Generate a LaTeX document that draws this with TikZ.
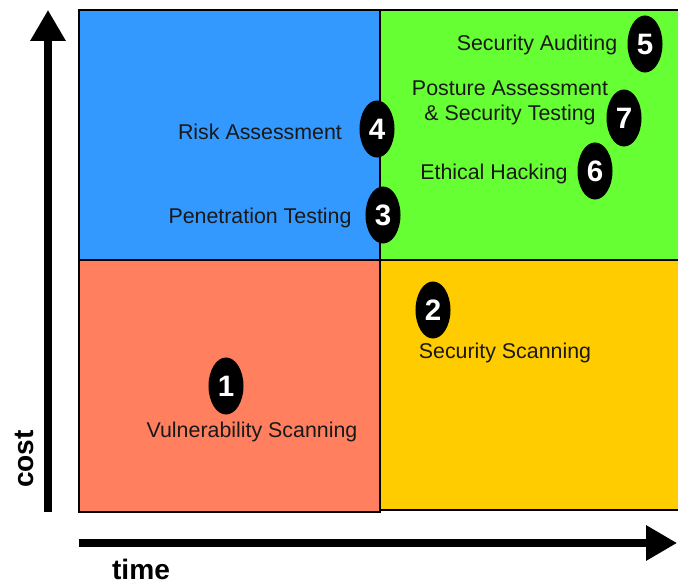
\documentclass[tikz,border=0pt]{standalone}
\usepackage{fontspec}
\setmainfont{Liberation Sans}
\usetikzlibrary{shapes.geometric,arrows.meta}

\definecolor{quadblue}{RGB}{51,153,255}
\definecolor{quadgreen}{RGB}{102,255,51}
\definecolor{quadred}{RGB}{255,127,95}
\definecolor{quadyellow}{RGB}{255,204,0}

\tikzset{
  quad/.style={draw=black, line width=2.1pt},
  badge/.style={ellipse, fill=black, text=white, inner sep=0pt,
    minimum width=0.875cm, minimum height=1.425cm,
    font=\fontsize{21}{21}\selectfont\bfseries},
  lbl/.style={text=black!90, align=center, inner sep=0pt,
    font=\fontsize{15.2}{18}\selectfont},
  axis/.style={line width=5pt, -{Triangle[length=22pt,width=24pt]}},
  axislbl/.style={font=\fontsize{20}{20}\selectfont\bfseries, inner sep=0pt}
}

\begin{document}
\begin{tikzpicture}[x=0.025cm, y=-0.025cm]
%\draw[help lines] (0,0) grid[step=50] (678,584);
\useasboundingbox (0,0) rectangle (678,584);
\clip (0,0) rectangle (678,584);

% the four quadrants
\filldraw[quad, fill=quadblue]   (79,10)  rectangle (380,260);
\filldraw[quad, fill=quadgreen]  (380,10) rectangle (695,260);
\filldraw[quad, fill=quadred]    (79,260) rectangle (380,512);
\filldraw[quad, fill=quadyellow] (380,260) rectangle (695,510);

% axes
\coordinate (cost-start) at (48,512);
\coordinate (cost-end)   at (48,10);
\coordinate (time-start) at (79,543);
\coordinate (time-end)   at (677,543);
\draw[axis] (cost-start) -- (cost-end);
\draw[axis] (time-start) -- (time-end);

\node[axislbl, rotate=90] (cost) at (24,459) {cost};
\node[axislbl] (time) at (141,569) {time};

% bottom left
\node[badge] (n1) at (226,386) {1};
\node[lbl] (vuln) at (252,432) {Vulnerability Scanning};

% bottom right
\node[badge] (n2) at (433,310) {2};
\node[lbl] (scan) at (505,353) {Security Scanning};

% top left
\node[badge] (n4) at (377,129) {4};
\node[lbl] (risk) at (260,132) {Risk Assessment};
\node[badge] (n3) at (383,215) {3};
\node[lbl] (pent) at (260,218) {Penetration Testing};

% top right
\node[badge] (n5) at (645,44) {5};
\node[lbl] (audit) at (537,45) {Security Auditing};
\node[badge] (n7) at (624,118) {7};
\node[lbl] (post) at (510,103) {Posture Assessment\\\& Security Testing};
\node[badge] (n6) at (595,171) {6};
\node[lbl] (hack) at (494,174) {Ethical Hacking};

\end{tikzpicture}
\end{document}
